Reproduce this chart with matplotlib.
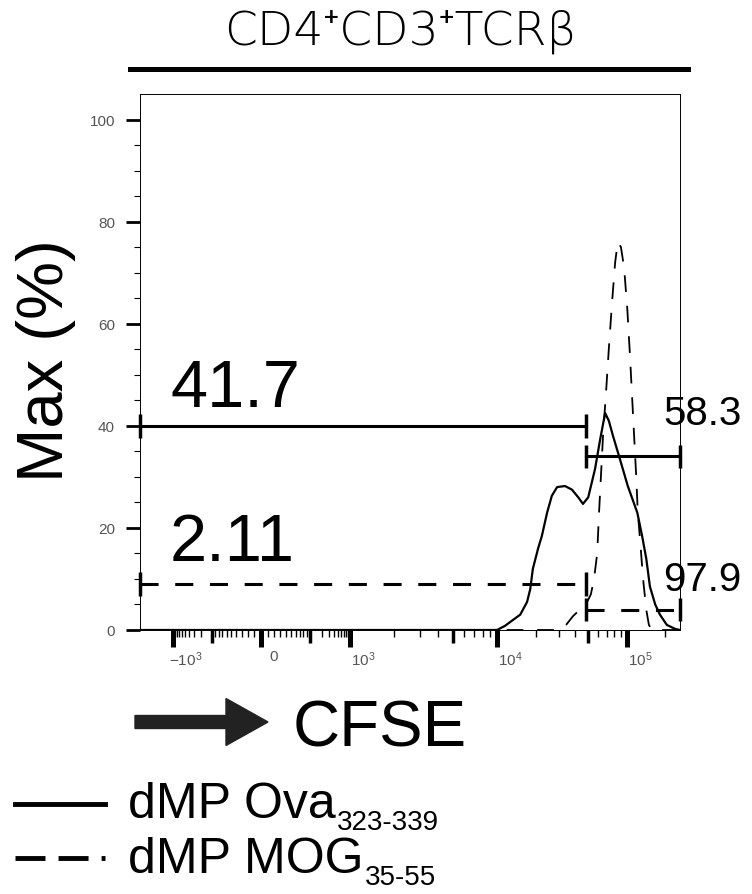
import numpy as np
import matplotlib
matplotlib.use("Agg")
import matplotlib.pyplot as plt
from matplotlib.lines import Line2D
from matplotlib.patches import FancyArrow
from matplotlib.transforms import ScaledTranslation

plt.rcParams['font.family'] = ['Liberation Sans', 'DejaVu Sans']
plt.rcParams['mathtext.default'] = 'regular'
plt.rcParams['lines.scale_dashes'] = False

# histograms, x in display channels (0-1024) of the biex CFSE axis, y in % of max
ova_ch = [0, 677, 692, 705, 721, 734, 740, 745, 755, 762, 772, 781, 791, 806, 819, 831, 840,
          850, 863, 872, 882, 889, 897, 910, 925, 943, 952, 960, 967, 977, 986, 999, 1015, 1024]
ova_pct = [0, 0, 0.8, 1.8, 3.0, 5.5, 8, 12, 16, 18.4, 23, 26.3, 28, 28.2, 27.5, 26, 24.7,
           26, 31.6, 37, 42.5, 41, 38, 33.5, 28.2, 23, 18.5, 14, 8.5, 5, 3, 1, 0.2, 0]

mog_ch = [0, 796, 808, 821, 834, 848, 855, 861, 867, 870, 874, 878, 884, 889, 895, 901,
          906, 912, 918, 924, 929, 933, 937, 941, 944, 948, 954, 960, 965, 971, 1024]
mog_pct = [0, 0, 1, 2.7, 4, 5.5, 7, 10, 15, 22, 30, 38, 47, 55, 64, 72,
           76, 75, 71, 63, 54, 46, 38, 30, 23, 18, 10, 4, 1, 0, 0]

# gates: split channel, gate percentages
gate_split = 846
ova_gates = ['41.7', '58.3']
mog_gates = ['2.11', '97.9']

tick_vals = [-1e3, 0, 1e3, 1e4, 1e5]
tick_labels = ['$-10^3$', '0', '$10^3$', '$10^4$', '$10^5$']

# biex axis: fluorescence value -> display channel
BIEX_V = np.array([-1e3, -1e2, 0, 1e2, 1e3, 1e4, 1e5, 262144])
BIEX_CH = np.array([62.6, 136.5, 229.5, 322.4, 398.2, 677, 923.5, 1024])


def to_channel(v):
    u = np.arcsinh(np.asarray(v, float) / 50)
    return np.interp(u, np.arcsinh(BIEX_V / 50), BIEX_CH)


W, H = 752, 895
fig = plt.figure(figsize=(W / 100, H / 100), dpi=100)


def fx(px):
    return px / W


def fy(py):
    return 1 - py / H


ax = fig.add_axes([fx(140), fy(631), 540 / W, 536 / H])
ax.plot(ova_ch, ova_pct, color='k', lw=1.6)
ax.plot(mog_ch, mog_pct, color='k', lw=1.3, dashes=(12, 10))
ax.set_xlim(0, 1024)
ax.set_ylim(0, 105)

for s in ax.spines.values():
    s.set_linewidth(0.7)


def gate(x0, x1, y, dashed):
    kw = dict(dashes=(13, 12)) if dashed else {}
    ax.plot([x0, x1], [y, y], color='k', lw=2.2, clip_on=False, **kw)
    ax.vlines([x0, x1], y - 2.3, y + 2.3, color='k', lw=2.5, clip_on=False)


gate(0, gate_split, 40, False)
gate(gate_split, 1024, 34, False)
gate(0, gate_split, 9, True)
gate(gate_split, 1024, 4, True)

ax.text(57, 43.9, ova_gates[0], fontsize=48, va='baseline')
ax.text(992, 40.4, ova_gates[1], fontsize=29, va='baseline')
ax.text(57, 13.7, mog_gates[0], fontsize=48, va='baseline')
ax.text(992, 7.8, mog_gates[1], fontsize=29, va='baseline')

# x ticks: labelled decades, medium and minor ticks
medium_vals = [-1e2, 1e2, 5e3, 5e4]
ax.set_xticks(to_channel(tick_vals + medium_vals), labels=tick_labels + [''] * len(medium_vals))
minor_vals = [s * m * 10 ** k for k in range(1, 5) for m in range(2, 10) for s in (1, -1)
              if not (m == 5 and k >= 3) and s * m * 10 ** k > -1e3]
minor_vals += [2e5, -10, 10]
ax.set_xticks(to_channel(minor_vals), minor=True)
ax.tick_params(axis='x', which='major', length=12, width=3.6, pad=2,
               labelsize=11, labelcolor='#555')
ax.tick_params(axis='x', which='minor', length=5, width=1)
for t in ax.xaxis.get_major_ticks()[len(tick_vals):]:
    t.tick1line.set_markersize(9)
    t.tick1line.set_markeredgewidth(2.5)
shift = ScaledTranslation(0.13, 0, fig.dpi_scale_trans)
for lab in ax.get_xticklabels():
    lab.set_transform(lab.get_transform() + shift)

ax.set_yticks([0, 20, 40, 60, 80, 100])
ax.set_yticks(np.arange(5, 105, 5), minor=True)
ax.tick_params(axis='y', which='major', length=10, width=2, pad=8,
               labelsize=11, labelcolor='#555')
ax.tick_params(axis='y', which='minor', length=4, width=0.8)

# title with bar
fig.text(fx(401), fy(45), 'CD4⁺CD3⁺TCRβ', ha='center', va='baseline',
         fontsize=34, family=['DejaVu Sans', 'Noto Sans', 'Liberation Sans'], fontweight='light')
fig.add_artist(Line2D([fx(130), fx(688)], [fy(70), fy(70)], color='k', lw=3.6))

fig.text(fx(46), fy(361), 'Max (%)', rotation=90, ha='center', va='center', fontsize=47)

# CFSE arrow
fig.add_artist(FancyArrow(1.35, (H - 723) / 100, 1.33, 0, width=0.13, head_width=0.47,
                          head_length=0.42, length_includes_head=True,
                          transform=fig.dpi_scale_trans, color='#222'))
fig.text(fx(293), fy(747), 'CFSE', ha='left', va='baseline', fontsize=47)

# legend
fig.add_artist(Line2D([fx(15), fx(105)], [fy(805), fy(805)], color='k', lw=3.5))
fig.add_artist(Line2D([fx(15), fx(105)], [fy(859), fy(859)], color='k', lw=3.5,
                      dashes=(21.6, 9.4)))
t1 = fig.text(fx(128), fy(818), 'dMP Ova', fontsize=36, va='baseline')
t2 = fig.text(fx(128), fy(873), 'dMP MOG', fontsize=36, va='baseline')
ax.annotate('323-339', xy=(1, 0), xycoords=t1, xytext=(1, -1.5), textcoords='offset points',
            fontsize=20, va='baseline', annotation_clip=False)
ax.annotate('35-55', xy=(1, 0), xycoords=t2, xytext=(1, -1.5), textcoords='offset points',
            fontsize=20, va='baseline', annotation_clip=False)

fig.savefig('out.png', dpi=100)
